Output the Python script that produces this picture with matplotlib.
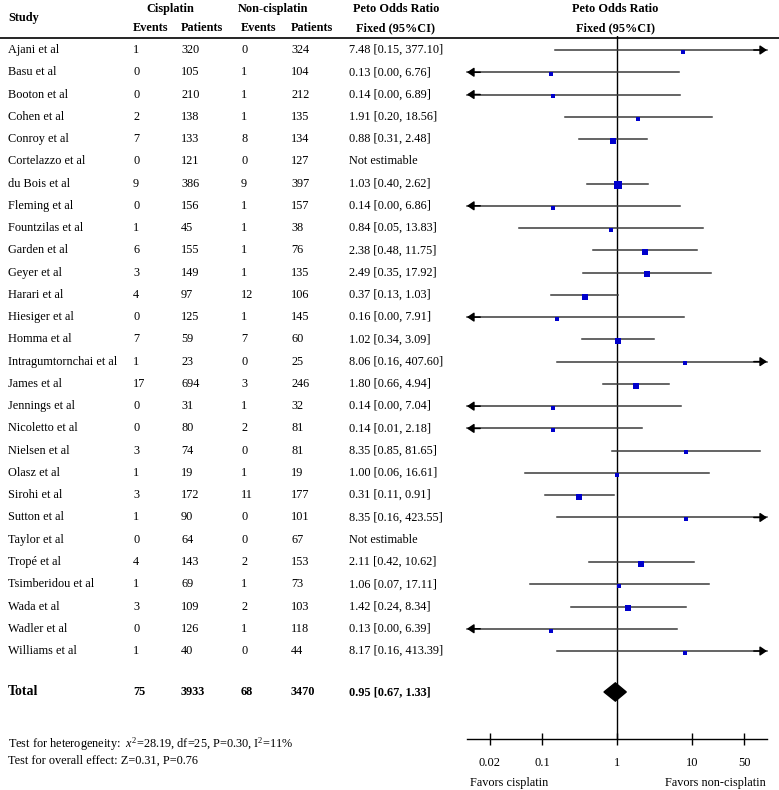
import matplotlib.pyplot as plt
import matplotlib.transforms as transforms
from matplotlib.lines import Line2D
import numpy as np

plt.rcParams['font.family'] = ['Liberation Serif', 'DejaVu Serif']
plt.rcParams['mathtext.fontset'] = 'custom'
plt.rcParams['mathtext.rm'] = 'Liberation Serif'
plt.rcParams['mathtext.it'] = 'Liberation Serif:italic'

studies = ['Ajani et al', 'Basu et al', 'Booton et al', 'Cohen et al', 'Conroy et al',
           'Cortelazzo et al', 'du Bois et al', 'Fleming et al', 'Fountzilas et al',
           'Garden et al', 'Geyer et al', 'Harari et al', 'Hiesiger et al', 'Homma et al',
           'Intragumtornchai et al', 'James et al', 'Jennings et al', 'Nicoletto et al',
           'Nielsen et al', 'Olasz et al', 'Sirohi et al', 'Sutton et al', 'Taylor et al',
           'Tropé et al', 'Tsimberidou et al', 'Wada et al', 'Wadler et al', 'Williams et al']
cis_events = [1, 0, 0, 2, 7, 0, 9, 0, 1, 6, 3, 4, 0, 7, 1, 17, 0, 0, 3, 1, 3, 1, 0, 4, 1, 3, 0, 1]
cis_patients = [320, 105, 210, 138, 133, 121, 386, 156, 45, 155, 149, 97, 125, 59, 23, 694,
                31, 80, 74, 19, 172, 90, 64, 143, 69, 109, 126, 40]
non_events = [0, 1, 1, 1, 8, 0, 9, 1, 1, 1, 1, 12, 1, 7, 0, 3, 1, 2, 0, 1, 11, 0, 0, 2, 1, 2, 1, 0]
non_patients = [324, 104, 212, 135, 134, 127, 397, 157, 38, 76, 135, 106, 145, 60, 25, 246,
                32, 81, 81, 19, 177, 101, 67, 153, 73, 103, 118, 44]
# None = not estimable
odds = [7.48, 0.13, 0.14, 1.91, 0.88, None, 1.03, 0.14, 0.84, 2.38, 2.49, 0.37, 0.16, 1.02,
        8.06, 1.80, 0.14, 0.14, 8.35, 1.00, 0.31, 8.35, None, 2.11, 1.06, 1.42, 0.13, 8.17]
ci_low = [0.15, 0.00, 0.00, 0.20, 0.31, None, 0.40, 0.00, 0.05, 0.48, 0.35, 0.13, 0.00, 0.34,
          0.16, 0.66, 0.00, 0.01, 0.85, 0.06, 0.11, 0.16, None, 0.42, 0.07, 0.24, 0.00, 0.16]
ci_high = [377.10, 6.76, 6.89, 18.56, 2.48, None, 2.62, 6.86, 13.83, 11.75, 17.92, 1.03, 7.91,
           3.09, 407.60, 4.94, 7.04, 2.18, 81.65, 16.61, 0.91, 423.55, None, 10.62, 17.11,
           8.34, 6.39, 413.39]

total = ['Total', '75', '3933', '68', '3470', '0.95 [0.67, 1.33]']
total_or = 0.95
total_lo = 0.67
total_hi = 1.33

ticks = [0.02, 0.1, 1, 10, 50]
tick_labels = ['0.02', '0.1', '1', '10', '50']

W, H = 779, 790
fig = plt.figure(figsize=(W / 100, H / 100), dpi=100)

# forest panel (pixel box 467..767 x 36..739)
ax = fig.add_axes([467 / W, 1 - 739 / H, 300 / W, 703 / H])
ax.set_xscale('log')
ax.set_xlim(0.01, 100)
step = 22.26
ax.set_ylim((739 - 50) / step, (36 - 50) / step)
for s in ['top', 'left', 'right']:
    ax.spines[s].set_visible(False)
ax.spines['bottom'].set_linewidth(1.0)
ax.set_yticks([])
ax.set_xticks(ticks)
ax.set_xticklabels(tick_labels)
ax.minorticks_off()
ax.tick_params(axis='x', direction='inout', length=9, width=1, pad=8.5, labelsize=9)
ax.axvline(1, color='black', lw=1, zorder=1)

fs = 8.8
trow = transforms.blended_transform_factory(fig.transFigure, ax.transData)

def px(x):
    return x / W

def py(y):
    return 1 - y / H

# header
fig.text(px(8), py(18), 'Study', fontsize=fs, fontweight='bold', va='center')
fig.text(px(170), py(9), 'Cisplatin', fontsize=fs, fontweight='bold', ha='center', va='center')
fig.text(px(273), py(9), 'Non-cisplatin', fontsize=fs, fontweight='bold', ha='center', va='center')
fig.text(px(396), py(9), 'Peto Odds Ratio', fontsize=fs, fontweight='bold', ha='center', va='center')
fig.text(px(615), py(9), 'Peto Odds Ratio', fontsize=fs, fontweight='bold', ha='center', va='center')
for x, lab in [(133, 'Events'), (181, 'Patients'), (241, 'Events'), (291, 'Patients')]:
    fig.text(px(x), py(28), lab, fontsize=fs, fontweight='bold', va='center')
fig.text(px(396), py(28), 'Fixed (95%CI)', fontsize=fs, fontweight='bold', ha='center', va='center')
fig.text(px(615), py(28), 'Fixed (95%CI)', fontsize=fs, fontweight='bold', ha='center', va='center')
fig.add_artist(Line2D([0, 1], [py(37.5), py(37.5)], color='black', lw=1.2, transform=fig.transFigure))

cols = [8, 133, 181, 241, 291, 349]
xmin, xmax = 0.01, 100
arrow = dict(arrowstyle='-|>,head_length=0.4,head_width=0.27',
             color='black', lw=1.1, shrinkA=0, shrinkB=0)
for i, name in enumerate(studies):
    o, lo, hi = odds[i], ci_low[i], ci_high[i]
    if o is None:
        or_txt = 'Not estimable'
    else:
        or_txt = f'{o:.2f} [{lo:.2f}, {hi:.2f}]'
    vals = [name, str(cis_events[i]), str(cis_patients[i]), str(non_events[i]),
            str(non_patients[i]), or_txt]
    for x, v in zip(cols, vals):
        ax.text(px(x), i, v, transform=trow, fontsize=fs, va='center')
    if o is None:
        continue
    a = max(lo, xmin)
    b = min(hi, xmax)
    ax.plot([a, b], [i, i], color='#3a3a3a', lw=1.1, zorder=2, clip_on=False)
    if lo <= xmin:
        ax.annotate('', xy=(xmin, i), xytext=(xmin * 1.5, i), arrowprops=arrow,
                    annotation_clip=False)
    if hi >= xmax:
        ax.annotate('', xy=(xmax, i), xytext=(xmax / 1.5, i), arrowprops=arrow,
                    annotation_clip=False)
    # square area ~ inverse variance weight
    se = (np.log(hi) - np.log(o)) / 1.96
    w = 1 / se ** 2
    side = (3.4 + 1.8 * np.sqrt(w)) * 0.72
    ax.plot([o], [i + 0.08], marker='s', ms=side, color='#0000cc', mec='#0000cc', mew=0,
            zorder=3, linestyle='none')

# total row
trow_y = len(studies) + 0.84
for k, (x, v) in enumerate(zip(cols, total)):
    ax.text(px(x), trow_y, v, transform=trow, fontsize=10 if k == 0 else fs,
            fontweight='bold', va='center')
ax.fill([total_lo, total_or, total_hi, total_or],
        [trow_y, trow_y - 0.41, trow_y, trow_y + 0.41], color='black', zorder=3)

fig.text(px(8), py(744), r'Test for heterogeneity:  $\mathit{x}^2$=28.19, df=25, P=0.30, I$^2$=11%',
         fontsize=fs, va='center')
fig.text(px(8), py(761), 'Test for overall effect: Z=0.31, P=0.76', fontsize=fs, va='center')
fig.text(px(470), py(783), 'Favors cisplatin', fontsize=fs, va='center')
fig.text(px(766), py(783), 'Favors non-cisplatin', fontsize=fs, va='center', ha='right')

fig.savefig('out.png', dpi=100)
